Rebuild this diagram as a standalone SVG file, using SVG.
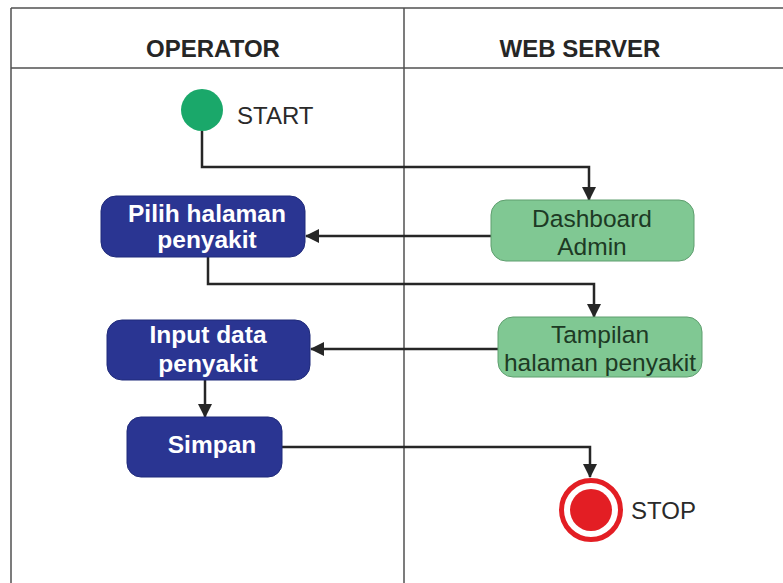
<svg xmlns="http://www.w3.org/2000/svg" width="783" height="583" viewBox="0 0 783 583">
  <defs>
    <marker id="arrow" viewBox="0 0 14 14" refX="13" refY="7" markerWidth="14" markerHeight="14" markerUnits="userSpaceOnUse" orient="auto">
      <path d="M0,0 L14,7 L0,14 Z" fill="#262626"/>
    </marker>
    <style>
      .frame { stroke: #505050; stroke-width: 1.5; fill: none; }
      .lane-title { font-family: "Liberation Sans", Arial, sans-serif; font-weight: bold; font-size: 24px; fill: #262626; text-anchor: middle; }
      .label { font-family: "Liberation Sans", Arial, sans-serif; font-size: 24px; fill: #2a2a2a; }
      .op { fill: #2a3592; stroke: #1f2a7a; stroke-width: 1; }
      .op-text { font-family: "Liberation Sans", Arial, sans-serif; font-weight: bold; font-size: 24.5px; fill: #ffffff; text-anchor: middle; }
      .srv { fill: #80c893; stroke: #5e9e6e; stroke-width: 1; }
      .srv-text { font-family: "Liberation Sans", Arial, sans-serif; font-size: 24.5px; fill: #1d3a24; text-anchor: middle; }
      .flow { stroke: #262626; stroke-width: 2.5; fill: none; marker-end: url(#arrow); }
    </style>
  </defs>

  <rect width="783" height="583" fill="#ffffff"/>

  <!-- swimlane frame -->
  <g id="lanes">
    <line class="frame" x1="11" y1="8" x2="783" y2="8"/>
    <line class="frame" x1="11" y1="68" x2="783" y2="68"/>
    <line class="frame" x1="11" y1="8" x2="11" y2="583"/>
    <line class="frame" x1="404" y1="8" x2="404" y2="583"/>
    <text class="lane-title" x="213" y="57">OPERATOR</text>
    <text class="lane-title" x="580" y="57">WEB SERVER</text>
  </g>

  <!-- connectors -->
  <g id="connectors">
    <path class="flow" d="M202,131 V167 H589 V200"/>
    <path class="flow" d="M491,236 H306"/>
    <path class="flow" d="M208,257 V284 H594 V317"/>
    <path class="flow" d="M498,349 H311"/>
    <path class="flow" d="M205,380 V417"/>
    <path class="flow" d="M282,447 H590 V477"/>
  </g>

  <g id="start">
    <circle cx="202" cy="110" r="21" fill="#1aa86a"/>
    <text class="label" x="237" y="124">START</text>
  </g>

  <g id="dashboard-admin">
    <rect class="srv" x="491" y="200" width="203" height="61" rx="15"/>
    <text class="srv-text" x="592" y="227">Dashboard</text>
    <text class="srv-text" x="592" y="255">Admin</text>
  </g>

  <g id="pilih-halaman">
    <rect class="op" x="101" y="196" width="204" height="61" rx="15"/>
    <text class="op-text" x="207" y="222">Pilih halaman</text>
    <text class="op-text" x="207" y="248">penyakit</text>
  </g>

  <g id="tampilan-halaman">
    <rect class="srv" x="498" y="317" width="204" height="60" rx="15"/>
    <text class="srv-text" x="600" y="343">Tampilan</text>
    <text class="srv-text" x="600" y="371">halaman penyakit</text>
  </g>

  <g id="input-data">
    <rect class="op" x="107" y="320" width="203" height="60" rx="15"/>
    <text class="op-text" x="208" y="343">Input data</text>
    <text class="op-text" x="208" y="372">penyakit</text>
  </g>

  <g id="simpan">
    <rect class="op" x="127" y="417" width="155" height="60" rx="14"/>
    <text class="op-text" x="212" y="453">Simpan</text>
  </g>

  <g id="stop">
    <circle cx="591" cy="510" r="29.5" fill="#ffffff" stroke="#e31e24" stroke-width="5"/>
    <circle cx="591" cy="510" r="21" fill="#e31e24"/>
    <text class="label" x="631" y="519">STOP</text>
  </g>
</svg>
